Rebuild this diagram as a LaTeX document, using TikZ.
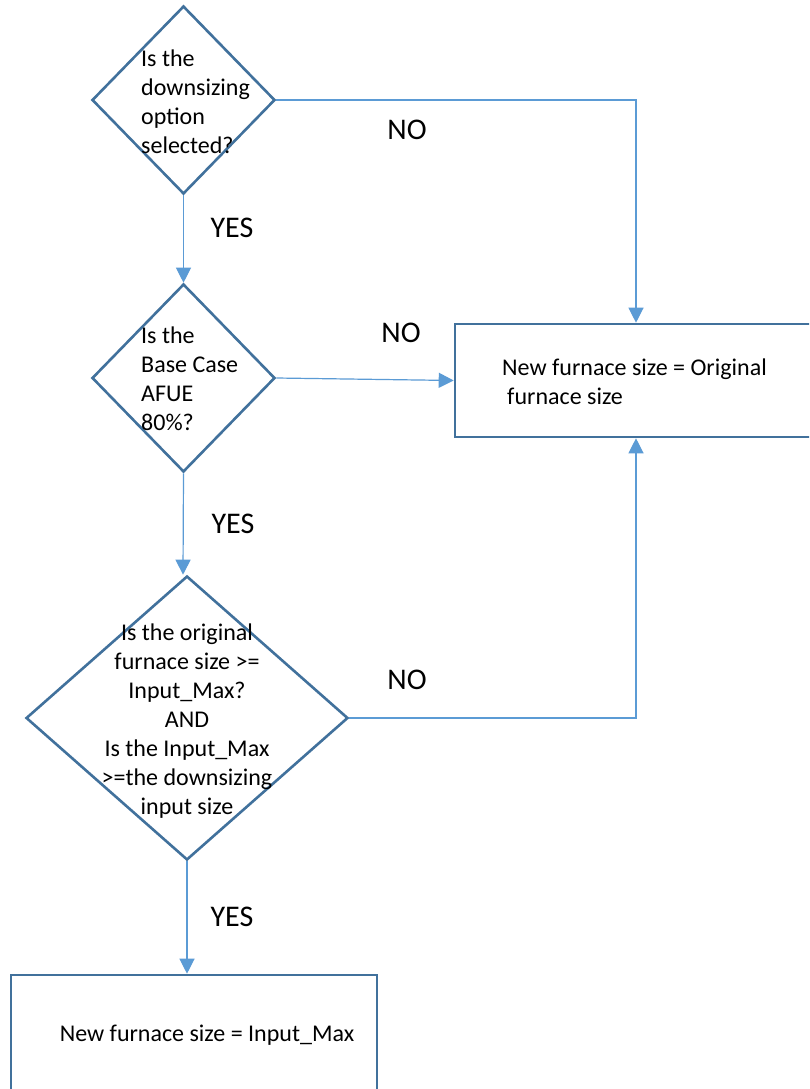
\documentclass[tikz,border=0pt]{standalone}
\usepackage{fontspec}
\setmainfont{Carlito}
\usetikzlibrary{shapes.geometric,arrows.meta}
\definecolor{shapeblue}{HTML}{41719C}
\definecolor{linkblue}{HTML}{5B9BD5}
\begin{document}
\begin{tikzpicture}[x=1pt,y=-1pt,
  every node/.style={font=\fontsize{24}{29}\selectfont, text=black},
  decision/.style={diamond, draw=shapeblue, line width=2.6pt, inner sep=0pt, minimum width=#1},
  procbox/.style={rectangle, draw=shapeblue, line width=2.6pt, inner sep=0pt},
  txt/.style={inner sep=0pt},
  lbl/.style={inner sep=0pt, font=\fontsize{30}{36}\selectfont},
  link/.style={draw=linkblue, line width=1.2pt},
  arr/.style={link, -{Triangle[width=15pt,length=15pt]}}
]
\useasboundingbox (0,0) rectangle (809,1089);
\clip (0,0) rectangle (809,1089);
\fill[white] (0,0) rectangle (809,1089);

% shapes
\node[decision=183pt, minimum height=188pt] (d1) at (183.5,100) {};
\node[decision=183pt, minimum height=188pt] (d2) at (183.5,378) {};
\node[decision=322pt, minimum height=284pt] (d3) at (187,718) {};
\node[procbox, minimum width=375pt, minimum height=113pt] (b1) at (642.5,380.5) {};
\node[procbox, minimum width=366pt, minimum height=140pt] (b2) at (194,1045) {};

% texts
\node[txt, align=left, anchor=west] (t1) at (141,102) {Is the\\downsizing\\option\\selected?};
\node[txt, align=left, anchor=west] (t2) at (141,379) {Is the\\Base Case\\AFUE\\80\%?};
\node[txt, align=center] (t3) at (187,721) {Is the original\\furnace size >=\\Input\_Max?\\AND\\Is the Input\_Max\\>=the downsizing\\input size};
\node[txt, align=left, anchor=west] (t4) at (502,382) {New furnace size = Original\\\hspace{5pt}furnace size};
\node[txt] (t5) at (207,1035) {New furnace size = Input\_Max};

% labels
\node[lbl] (y1) at (232,228) {YES};
\node[lbl] (y2) at (233,524) {YES};
\node[lbl] (y3) at (232,917) {YES};
\node[lbl] (n1) at (407,130) {NO};
\node[lbl] (n2) at (401,333) {NO};
\node[lbl] (n3) at (407,680) {NO};

% connectors
\coordinate (c1) at (636,100);
\coordinate (c2) at (636,718);
\draw[arr] (d1.south) -- (d2.north);
\draw[arr] (d2.south) -- ([xshift=-4pt]d3.north);
\draw[arr] (d3.south) -- (d3.south |- b2.north);
\draw[arr] (d2.east) -- (b1.west);
\draw[arr] (d1.east) -- (c1) -- (c1 |- b1.north);
\draw[arr] (d3.east) -- (c2) -- (c2 |- b1.south);
\end{tikzpicture}
\end{document}
